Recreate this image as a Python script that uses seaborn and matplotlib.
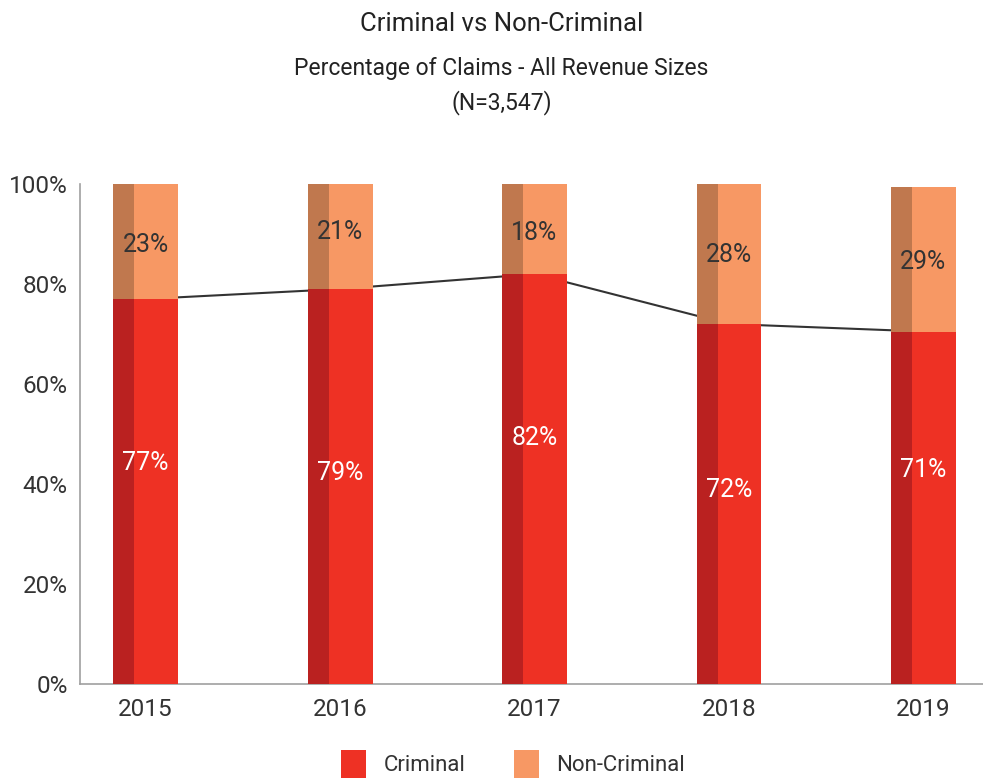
import numpy as np
import pandas as pd
import matplotlib
matplotlib.use("Agg")
import matplotlib.pyplot as plt
from matplotlib.patches import Rectangle, Patch
import seaborn as sns

years = ["2015", "2016", "2017", "2018", "2019"]
criminal = [77, 79, 82, 72, 70.5]
non_criminal = [23, 21, 18, 28, 29]
criminal_labels = ["77%", "79%", "82%", "72%", "71%"]
non_criminal_labels = ["23%", "21%", "18%", "28%", "29%"]
yticks = [0, 20, 40, 60, 80, 100]
ytick_labels = ["0%", "20%", "40%", "60%", "80%", "100%"]

# label placement (in axis %)
crim_label_y = [44.2, 42.2, 49.2, 38.8, 42.8]
non_label_y = [87.8, 90.4, 90.2, 85.8, 84.4]

sns.set_style("white")
FONT = ["Liberation Sans Narrow", "Roboto", "DejaVu Sans"]
plt.rcParams["font.family"] = FONT

C_CRIM = "#EE3124"
C_CRIM_D = "#BA2120"
C_NON = "#F79864"
C_NON_D = "#C0784E"
TXT = "#333333"

fig = plt.figure(figsize=(9.83, 7.81), dpi=100)
ax = fig.add_axes([80/983, 97/781, 903/983, 500/781])

df = pd.DataFrame({"year": years,
                   "total": np.array(criminal) + np.array(non_criminal),
                   "criminal": criminal})

W = 65 / 194.5
sns.barplot(data=df, x="year", y="total", color=C_NON, width=W, ax=ax,
            saturation=1, zorder=3, linewidth=0, edgecolor="none")
sns.barplot(data=df, x="year", y="criminal", color=C_CRIM, width=W, ax=ax,
            saturation=1, zorder=4, linewidth=0, edgecolor="none")

for i, p in enumerate(list(ax.patches)):
    dark = C_NON_D if i < len(years) else C_CRIM_D
    ax.add_patch(Rectangle((p.get_x(), p.get_y()), p.get_width() * 21 / 65,
                           p.get_height(), facecolor=dark, edgecolor="none",
                           linewidth=0, zorder=p.get_zorder() + 0.5))

sns.lineplot(x=np.arange(len(years)), y=criminal, color="#333333", lw=1.5,
             ax=ax, zorder=2)

for i in range(len(years)):
    ax.text(i, crim_label_y[i], criminal_labels[i], ha="center", va="center",
            color="white", fontsize=18, zorder=6)
    ax.text(i, non_label_y[i], non_criminal_labels[i], ha="center",
            va="center", color=TXT, fontsize=18, zorder=6)

ax.set_xlim(-0.337, 4.306)
ax.set_ylim(0, 100)
ax.set_yticks(yticks)
ax.set_yticklabels(ytick_labels)
ax.set_xlabel("")
ax.set_ylabel("")
ax.tick_params(axis="y", direction="in", length=14, width=1, color="#A0A0A0",
               pad=9, labelsize=17.5, labelcolor=TXT)
ax.tick_params(axis="x", length=0, pad=10, labelsize=17.5, labelcolor=TXT)
for s in ["top", "right"]:
    ax.spines[s].set_visible(False)
for s in ["left", "bottom"]:
    ax.spines[s].set_color("#A0A0A0")
    ax.spines[s].set_linewidth(1.2)

fig.text(0.51, 1 - 24/781, "Criminal vs Non-Criminal", ha="center",
         va="center", fontsize=18.5, color="#222222")
fig.text(0.51, 1 - 68/781, "Percentage of Claims - All Revenue Sizes",
         ha="center", va="center", fontsize=16.5, color="#222222")
fig.text(0.51, 1 - 103/781, "(N=3,547)", ha="center", va="center",
         fontsize=16.5, color="#222222")

handles = [Patch(facecolor=C_CRIM, edgecolor="none", label="Criminal"),
           Patch(facecolor=C_NON, edgecolor="none", label="Non-Criminal")]
fig.legend(handles=handles, loc="center", bbox_to_anchor=(0.522, 1 - 764/781),
           ncol=2, frameon=False, fontsize=16, handlelength=1.1,
           handleheight=1.6, handletextpad=0.8, columnspacing=2.2,
           labelcolor=TXT)

fig.savefig("out.png", dpi=100)
